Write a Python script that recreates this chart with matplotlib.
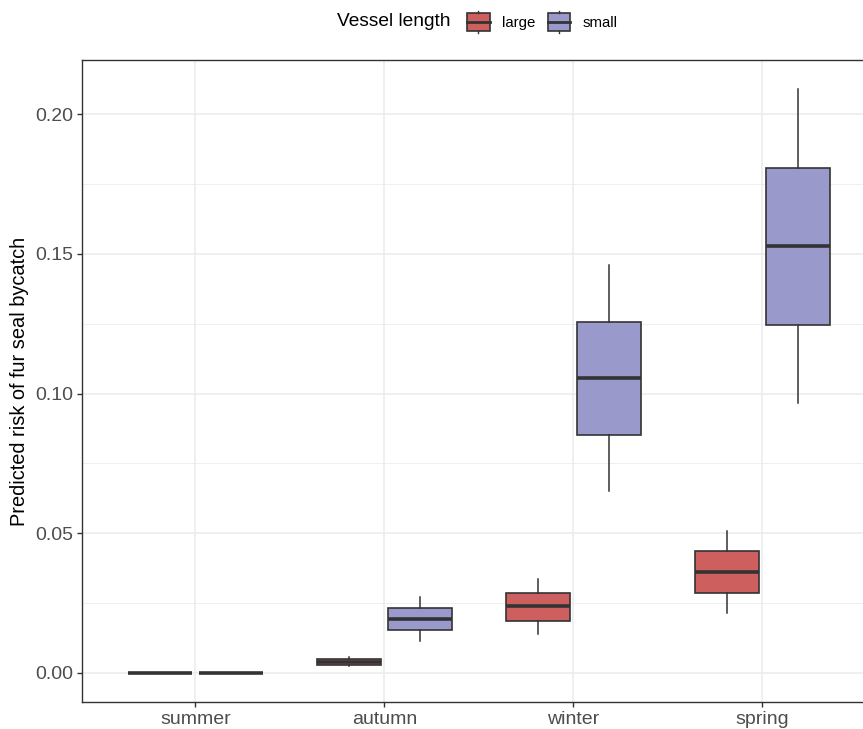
import numpy as np
import matplotlib.pyplot as plt
from matplotlib.patches import Rectangle, Patch
from matplotlib.lines import Line2D
from matplotlib.legend_handler import HandlerBase

# Seasons on the x axis, two vessel classes dodged within each
seasons = ['summer', 'autumn', 'winter', 'spring']
vessel = ['large', 'small']

# Box summaries per season: lower whisker, Q1, median, Q3, upper whisker
large_lo  = [0.0,    0.0025, 0.0139, 0.0214]
large_q1  = [0.0,    0.0029, 0.0186, 0.0286]
large_med = [0.0,    0.0039, 0.0239, 0.0361]
large_q3  = [0.0,    0.0050, 0.0286, 0.0436]
large_hi  = [0.0,    0.0057, 0.0336, 0.0507]

small_lo  = [0.0,    0.0114, 0.0650, 0.0968]
small_q1  = [0.0,    0.0154, 0.0850, 0.1246]
small_med = [0.0,    0.0193, 0.1054, 0.1529]
small_q3  = [0.0,    0.0232, 0.1257, 0.1807]
small_hi  = [0.0,    0.0271, 0.1460, 0.2090]

fill = {'large': '#CD5F5F', 'small': '#9999CC'}
edge = '#333333'

plt.rcParams['font.family'] = ['Liberation Sans', 'DejaVu Sans']

fig = plt.figure(figsize=(8.63, 7.29), dpi=100)
ax = fig.add_axes([82/863, 27/729, 793.8/863, 642/729])


def stats(lo, q1, med, q3, hi):
    return [dict(whislo=a, q1=b, med=c, q3=d, whishi=e, fliers=[])
            for a, b, c, d, e in zip(lo, q1, med, q3, hi)]


pos = np.arange(1, len(seasons) + 1)
dodge = 0.1875
bw = 0.34
groups = {
    'large': (stats(large_lo, large_q1, large_med, large_q3, large_hi), -dodge),
    'small': (stats(small_lo, small_q1, small_med, small_q3, small_hi), dodge),
}
for name, (st, off) in groups.items():
    ax.bxp(st, positions=pos + off, widths=bw, showcaps=False, patch_artist=True,
           boxprops=dict(facecolor=fill[name], edgecolor=edge, linewidth=1.2),
           whiskerprops=dict(color=edge, linewidth=1.1),
           medianprops=dict(color=edge, linewidth=2.6, solid_capstyle='butt'),
           manage_ticks=False, zorder=3)

ax.set_xlim(0.4, 4.6)
ax.set_ylim(-0.01045, 0.21945)
ax.set_xticks(pos)
ax.set_xticklabels(seasons)
ax.set_yticks([0, 0.05, 0.10, 0.15, 0.20])
ax.set_yticklabels(['0.00', '0.05', '0.10', '0.15', '0.20'])
ax.set_yticks([0.025, 0.075, 0.125, 0.175], minor=True)

ax.grid(True, which='major', color='#EBEBEB', linewidth=1.1, zorder=0)
ax.grid(True, which='minor', axis='y', color='#EBEBEB', linewidth=0.55, zorder=0)
ax.set_axisbelow(True)
ax.tick_params(axis='both', which='major', length=3.5, width=1.0, color=edge,
               labelsize=14, labelcolor='#4D4D4D', pad=3)
ax.tick_params(axis='both', which='minor', length=0)
for sp in ax.spines.values():
    sp.set_color(edge)
    sp.set_linewidth(1.0)

ax.set_ylabel('Predicted risk of fur seal bycatch', fontsize=14.4, color='black', labelpad=4)


class BoxKey(HandlerBase):
    # boxplot-style legend key: filled box, median bar, short whisker stubs
    def create_artists(self, legend, orig, xd, yd, w, h, fontsize, trans):
        x0, y0 = -xd, -yd
        box = Rectangle((x0, y0), w, h, facecolor=orig.get_facecolor(),
                        edgecolor=edge, linewidth=1.2, transform=trans)
        mid = Line2D([x0, x0 + w], [y0 + h / 2] * 2, color=edge, linewidth=2.0,
                     transform=trans)
        top = Line2D([x0 + w / 2] * 2, [y0 + h, y0 + h * 1.15], color=edge,
                     linewidth=1.0, transform=trans)
        bot = Line2D([x0 + w / 2] * 2, [y0, y0 - h * 0.15], color=edge,
                     linewidth=1.0, transform=trans)
        return [box, mid, top, bot]


handles = [Patch(facecolor=fill[v]) for v in vessel]
fig.text(337/863, 1 - 22/729, 'Vessel length', fontsize=13.8, ha='left', va='center')
fig.legend(handles, vessel, handler_map={Patch: BoxKey()}, loc='center left',
           bbox_to_anchor=(467/863, 1 - 22/729), ncol=2, frameon=False,
           fontsize=10.8, handlelength=1.5, handleheight=1.4, handletextpad=0.8,
           columnspacing=0.85, borderpad=0, borderaxespad=0)

fig.savefig('out.png', dpi=100)
